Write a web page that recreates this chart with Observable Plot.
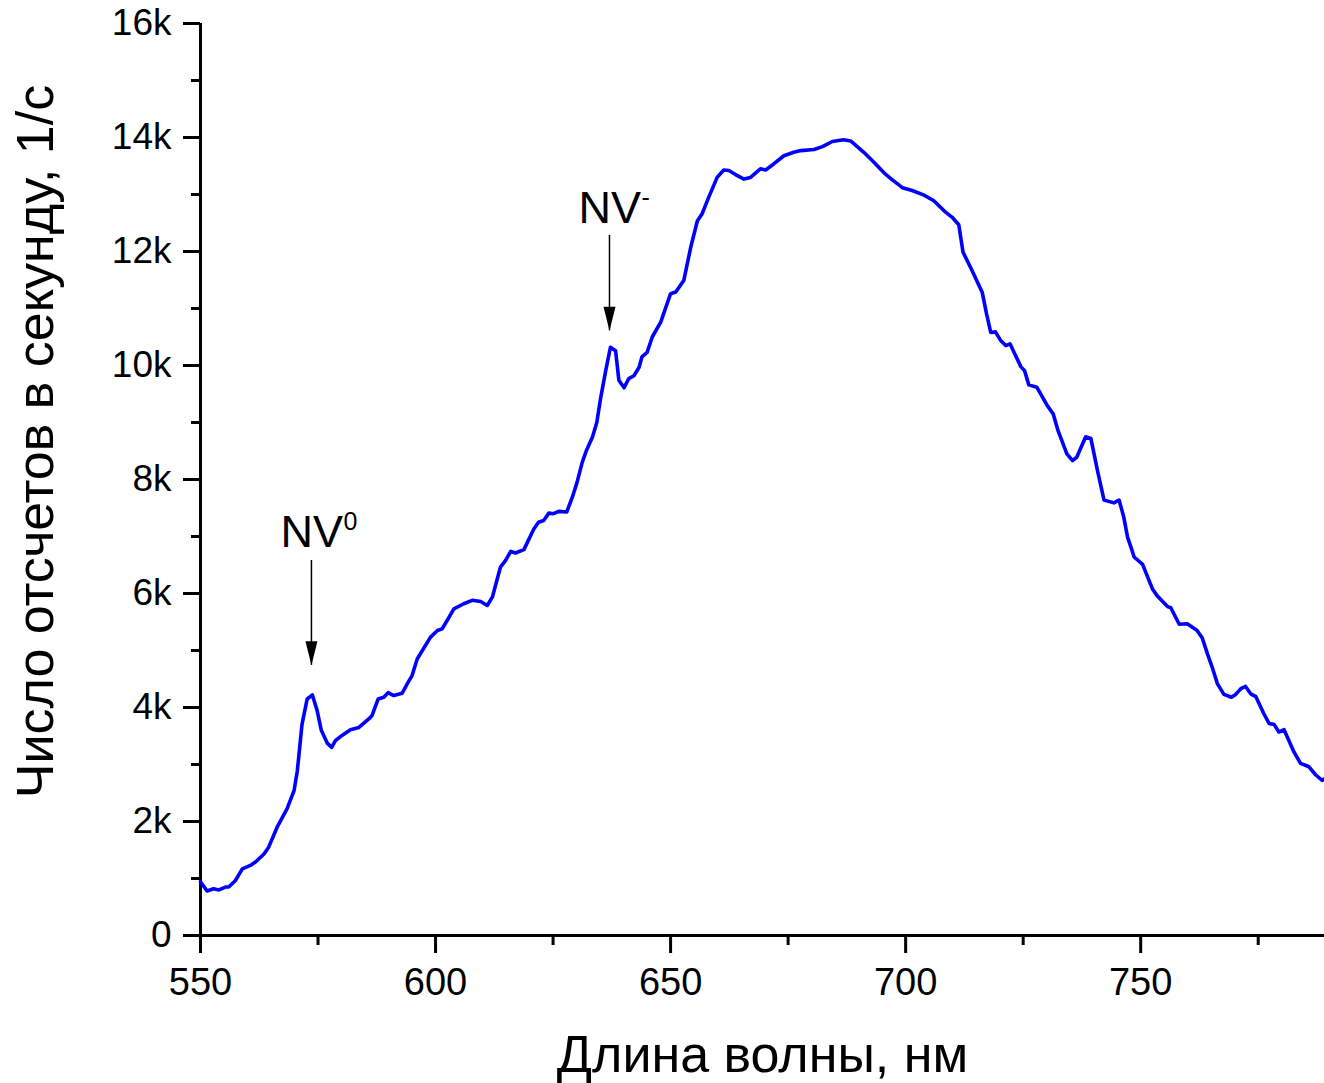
<!DOCTYPE html>
<html><head><meta charset="utf-8">
<script src="https://cdn.jsdelivr.net/npm/d3@7"></script>
<script src="https://cdn.jsdelivr.net/npm/@observablehq/plot@0.6"></script>
<style>body{margin:0;background:#fff} svg{display:block}</style>
</head><body><div id="chart"></div>
<script>
const wavelength = [550.0,551.4,552.8,553.9,555.3,556.0,557.4,558.9,560.6,561.7,
563.5,564.5,566.3,568.4,569.9,570.6,571.6,572.7,573.8,574.8,
575.7,577.0,577.9,578.7,580.1,581.9,583.7,585.8,586.5,587.8,
589.0,589.9,591.1,592.9,594.0,595.0,596.1,597.2,598.9,600.4,
601.4,602.5,603.9,606.0,607.8,609.6,611.0,612.1,613.8,614.9,
616.0,617.0,618.8,620.9,621.9,623.0,624.1,625.1,626.2,627.9,
629.1,630.1,631.2,632.1,633.4,634.3,635.1,636.2,637.2,638.3,
639.0,640.1,641.1,642.2,643.3,643.9,645.0,646.1,647.9,650.0,
651.1,652.8,654.3,655.7,656.7,658.1,659.9,661.3,662.4,663.8,
665.6,667.0,669.1,670.2,672.0,674.1,676.2,677.7,680.5,682.3,
684.4,686.8,688.3,691.1,693.2,695.4,697.1,699.3,701.4,703.9,
706.0,708.5,709.9,711.3,712.2,714.1,716.3,717.2,718.1,719.1,
720.2,721.3,722.2,724.5,725.3,726.2,727.9,730.1,731.4,732.4,
734.3,735.5,736.4,738.3,739.4,740.8,742.2,744.3,745.4,746.4,
747.2,748.1,748.6,750.4,752.5,753.6,755.7,756.4,758.2,759.9,
762.0,763.1,764.2,765.2,766.3,767.7,769.3,770.2,771.3,772.3,
773.4,774.5,776.2,777.3,778.4,779.4,780.5,782.6,784.0,785.8,
787.2,788.6,789.1];
const countsK = [0.94,0.78,0.82,0.80,0.85,0.85,0.96,1.17,1.23,1.29,
1.43,1.55,1.90,2.22,2.54,2.89,3.71,4.15,4.22,3.95,
3.60,3.37,3.30,3.42,3.51,3.61,3.65,3.80,3.86,4.15,
4.18,4.26,4.21,4.25,4.42,4.56,4.85,5.00,5.23,5.35,
5.38,5.53,5.73,5.82,5.88,5.86,5.79,5.94,6.46,6.58,
6.74,6.71,6.77,7.13,7.25,7.28,7.41,7.40,7.44,7.43,
7.69,7.95,8.30,8.51,8.75,9.00,9.42,9.91,10.32,10.26,
9.74,9.61,9.77,9.82,9.97,10.15,10.23,10.50,10.76,11.26,
11.29,11.49,12.08,12.54,12.66,12.95,13.30,13.43,13.42,13.35,
13.27,13.30,13.45,13.43,13.54,13.68,13.74,13.77,13.79,13.84,
13.93,13.96,13.94,13.74,13.57,13.38,13.26,13.12,13.07,12.99,
12.89,12.69,12.60,12.47,11.99,11.67,11.28,10.91,10.58,10.59,
10.44,10.35,10.38,9.98,9.91,9.66,9.62,9.30,9.15,8.86,
8.45,8.33,8.39,8.75,8.72,8.16,7.64,7.59,7.64,7.34,
6.99,6.77,6.64,6.51,6.08,5.95,5.77,5.75,5.46,5.47,
5.35,5.22,4.94,4.71,4.42,4.23,4.18,4.23,4.33,4.37,
4.24,4.19,3.89,3.72,3.70,3.57,3.61,3.22,3.02,2.96,
2.82,2.72,2.75];

const xMajorTicks = [550, 600, 650, 700, 750];
const xMinorTicks = [575, 625, 675, 725, 775];
const yMajorTicks = [0, 2000, 4000, 6000, 8000, 10000, 12000, 14000, 16000];
const yMinorTicks = [1000, 3000, 5000, 7000, 9000, 11000, 13000, 15000];
const xTitle = "Длина волны, нм";
const yTitle = "Число отсчетов в секунду, 1/с";

const peakLabel = ["NV", "NV"];
const peakSup = ["0", "-"];
const peakX = [573.6, 637.0];
const peakYStart = [6580, 12280];
const peakYTip = [4740, 10610];

const data = wavelength.map((w, i) => ({w, c: countsK[i] * 1000}));
const peaks = peakLabel.map((l, i) => ({label: l, sup: peakSup[i], x: peakX[i], y1: peakYStart[i], y2: peakYTip[i]}));

const arrowHead = {draw(ctx) { ctx.moveTo(-6, -24); ctx.lineTo(6, -24); ctx.lineTo(0, 0); ctx.closePath(); }};
const font = "Arial, 'Liberation Sans', sans-serif";

const plot = Plot.plot({
  width: 1324, height: 1083,
  marginLeft: 200, marginRight: 0, marginTop: 23, marginBottom: 148,
  style: {fontFamily: font, color: "#000", background: "#fff", overflow: "visible"},
  x: {domain: [550, 789.1], label: null},
  y: {domain: [0, 16000], label: null},
  marks: [
    Plot.axisY({ticks: yMajorTicks, tickSize: 17, tickPadding: 12, fontSize: 37, strokeWidth: 3,
      tickFormat: d => d === 0 ? "0" : (d / 1000) + "k", label: null}),
    Plot.axisY({ticks: yMinorTicks, tickSize: 9, strokeWidth: 3, tickFormat: () => "", label: null}),
    Plot.axisX({ticks: xMajorTicks, tickSize: 18, tickPadding: 15, fontSize: 38, strokeWidth: 3,
      tickFormat: d => String(d), label: null}),
    Plot.axisX({ticks: xMinorTicks, tickSize: 10, strokeWidth: 3, tickFormat: () => "", label: null}),
    Plot.ruleX([550], {strokeWidth: 3}),
    Plot.ruleY([0], {strokeWidth: 3}),
    Plot.line(data, {x: "w", y: "c", stroke: "#0000ff", strokeWidth: 3.6}),
    Plot.ruleX(peaks, {x: "x", y1: "y1", y2: "y2", strokeWidth: 1.5}),
    Plot.dot(peaks, {x: "x", y: "y2", symbol: arrowHead, fill: "black", stroke: "none", r: 5}),
    Plot.text(peaks, {x: "x", y: "y1", text: "label", textAnchor: "start", lineAnchor: "bottom", dx: -31, dy: -13, fontSize: 45}),
    Plot.text(peaks, {x: "x", y: "y1", text: "sup", textAnchor: "start", lineAnchor: "bottom", dx: 32, dy: -30, fontSize: 25}),
    Plot.text([xTitle], {text: d => d, frameAnchor: "bottom", dy: 120, fontSize: 52, lineAnchor: "middle"}),
    Plot.text([yTitle], {text: d => d, frameAnchor: "left", textAnchor: "middle", rotate: -90, dx: -164, dy: -38, fontSize: 52, lineAnchor: "middle"})
  ]
});
document.getElementById("chart").appendChild(plot);
</script>
</body></html>
